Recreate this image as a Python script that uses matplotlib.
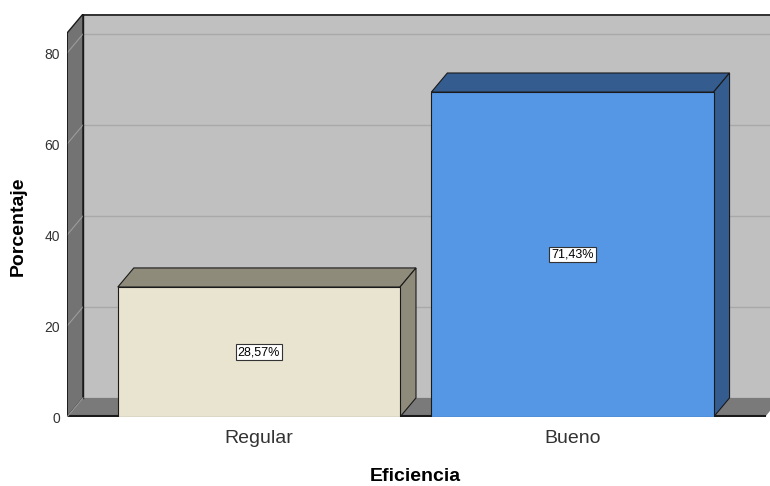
import matplotlib
matplotlib.use('Agg')
import matplotlib.pyplot as plt
from matplotlib.patches import Polygon, Rectangle

plt.rcParams['font.family'] = ['Liberation Sans', 'DejaVu Sans']

categories = ['Regular', 'Bueno']
porcentajes = [28.57, 71.43]
etiquetas = ['28,57%', '71,43%']
yticks = [0, 20, 40, 60, 80]

front_colors = ['#e9e4d0', '#5596e5']
side_colors = ['#8f8b7b', '#345c8f']

BAR_W = 0.9
DX, DY = 0.051, 4.2      # depth offset in data units
X0, X1 = -0.612, 1.614   # front floor extent
YTOP = 88.6

fig = plt.figure(figsize=(7.7, 4.86), dpi=100)
ax = fig.add_axes([67 / 770, 69 / 486, 1 - 67 / 770, 403 / 486])
ax.set_xlim(X0, 1.63)
ax.set_ylim(0, YTOP)
for s in ax.spines.values():
    s.set_visible(False)

edge = '#1a1a1a'

# back wall
ax.add_patch(Rectangle((X0 + DX, DY), 3, YTOP, facecolor='#c0c0c0', edgecolor='none', zorder=1))
for t in yticks[1:]:
    ax.plot([X0 + DX, 3], [t + DY, t + DY], color='#a9a9a9', lw=1, zorder=2)
ax.plot([X0 + DX, 3], [YTOP - 0.15, YTOP - 0.15], color=edge, lw=1.2, zorder=2)

# left wall
ax.add_patch(Polygon([(X0, 0), (X0 + DX, DY), (X0 + DX, YTOP), (X0, YTOP - DY)],
                     closed=True, facecolor='#737373', edgecolor=edge, lw=1, zorder=3))
for t in yticks[1:]:
    ax.plot([X0, X0 + DX], [t, t + DY], color='#9c9c9c', lw=0.8, zorder=4)

# floor
ax.add_patch(Polygon([(X0, 0), (X1, 0), (X1 + DX, DY), (X0 + DX, DY)],
                     closed=True, facecolor='#7a7a7a', edgecolor='none', zorder=3))
ax.plot([X0, X1], [0.15, 0.15], color=edge, lw=1.5, zorder=4)
ax.plot([X0 + DX, X0 + DX], [DY, YTOP], color=edge, lw=1, zorder=4)
ax.plot([X0, X0], [0, YTOP - DY], color=edge, lw=1.2, zorder=4)
ax.plot([X0, X0 + DX], [0, DY], color='#999999', lw=0.8, zorder=4)

# 3D bars
for i, (v, fc, sc, lab) in enumerate(zip(porcentajes, front_colors, side_colors, etiquetas)):
    l, r = i - BAR_W / 2, i + BAR_W / 2
    ax.add_patch(Polygon([(l, v), (r, v), (r + DX, v + DY), (l + DX, v + DY)],
                         closed=True, facecolor=sc, edgecolor=edge, lw=0.8, zorder=5))
    ax.add_patch(Polygon([(r, 0), (r + DX, DY), (r + DX, v + DY), (r, v)],
                         closed=True, facecolor=sc, edgecolor=edge, lw=0.8, zorder=5))
    ax.add_patch(Rectangle((l, 0), BAR_W, v, facecolor=fc, edgecolor=edge, lw=0.8, zorder=6))
    ax.text(i, v / 2, lab, ha='center', va='center', fontsize=9, color='black', zorder=7,
            bbox=dict(boxstyle='square,pad=0.15', facecolor='white', edgecolor='#333333', lw=0.8))

ax.set_yticks(yticks)
ax.set_yticklabels([str(t) for t in yticks])
ax.set_xticks(range(len(categories)))
ax.set_xticklabels(categories)
ax.tick_params(axis='y', length=0, pad=5, labelsize=10, labelcolor='#333333')
ax.tick_params(axis='x', length=0, pad=9, labelsize=14, labelcolor='#333333')

fig.text(415 / 770, 1 - 476 / 486, 'Eficiencia', ha='center', va='center',
         fontsize=14, fontweight='bold', color='black')
fig.text(18 / 770, 1 - 226 / 486, 'Porcentaje', ha='center', va='center', rotation=90,
         fontsize=14, fontweight='bold', color='black')

fig.savefig('out.png', dpi=100)
